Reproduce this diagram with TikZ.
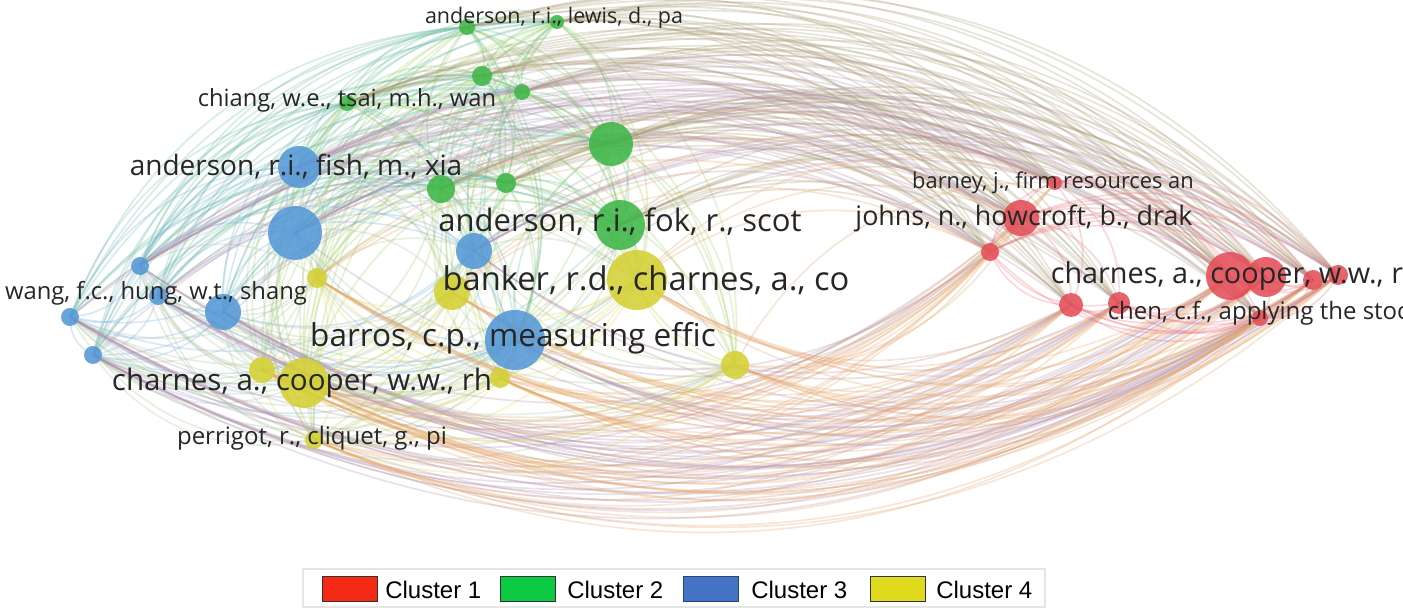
\documentclass[tikz,border=0pt]{standalone}
\usepackage{fontspec}
\setmainfont{Open Sans}
\newfontfamily\legendfont{Liberation Sans}
\usetikzlibrary{backgrounds,positioning,calc}

\definecolor{cred}{RGB}{228,78,88}
\definecolor{cgreen}{RGB}{62,182,72}
\definecolor{cblue}{RGB}{84,152,214}
\definecolor{cyellow}{RGB}{212,208,52}
\definecolor{kred}{RGB}{245,42,20}
\definecolor{kgreen}{RGB}{12,201,67}
\definecolor{kblue}{RGB}{68,114,196}
\definecolor{kyellow}{RGB}{224,218,30}

% sizes are a quarter of the pixel sizes
\newcommand\lblsize[1]{\fontsize{#1}{#1}\selectfont}

\tikzset{
  vos/.style={circle, inner sep=0pt, draw=none, fill opacity=0.88},
  link/.style={line width=0.42pt, draw opacity=0.28},
  lbl/.style={text=black!85, inner sep=0pt},
  key/.style={draw=black!80, line width=0.25pt, minimum width=13.75pt,
    minimum height=6.25pt, inner sep=0pt},
  keytxt/.style={font=\legendfont\lblsize{6}, inner sep=0pt, anchor=west},
}

% name/x/y/radius/colour
\def\vosnet{g1/467/27/8/cgreen,
  g2/557/22/7/cgreen,
  g3/482/76/10/cgreen,
  g4/522/92/8/cgreen,
  g5/347/103/8/cgreen,
  g6/611/144/22/cgreen,
  g7/441/189/14/cgreen,
  g8/506/183/10/cgreen,
  g9/620/225/25/cgreen,
  b1/299/167/21/cblue,
  b2/295/233/27/cblue,
  b3/474/251/18/cblue,
  b4/140/266/9/cblue,
  b5/223/312/18/cblue,
  b6/70/317/9/cblue,
  b7/93/355/9/cblue,
  b8/515/340/30/cblue,
  b9/158/296/9/cblue,
  y1/317/278/10/cyellow,
  y2/452/292/18/cyellow,
  y3/637/280/30/cyellow,
  y4/262/370/13/cyellow,
  y5/304/383/25/cyellow,
  y6/500/378/10/cyellow,
  y7/735/365/14/cyellow,
  y8/314/440/9/cyellow,
  r1/1055/183/7/cred,
  r2/1021/218/18/cred,
  r3/990/252/9/cred,
  r4/1071/305/12/cred,
  r5/1119/303/11/cred,
  r6/1230/276/24/cred,
  r7/1266/277/20/cred,
  r8/1313/280/10/cred,
  r9/1338/275/10/cred,
  r10/1260/318/8/cred}

\begin{document}
\begin{tikzpicture}[x=0.25pt,y=-0.25pt]
\useasboundingbox (0,0) rectangle (1403,608);
\clip (0,0) rectangle (1403,608);

% publications
\foreach \n/\x/\y/\r/\c in \vosnet
  \node[vos, fill=\c, minimum size=\r/2] (\n) at (\x,\y) {};

% citation links
\begin{scope}[on background layer]
\foreach \a/\xa/\ya/\ra/\ca [count=\i] in \vosnet {
  \foreach \b/\xb/\yb/\rb/\cb [count=\j] in \vosnet {
    \ifnum\j>\i
      \pgfmathtruncatemacro\up{((\ya+\yb)<550)==(\xa<\xb)}
      \ifnum\up=1
        \draw[link, draw=\ca!50!\cb!80!white] (\a.center) to[bend left=32] (\b.center);
      \else
        \draw[link, draw=\ca!50!\cb!80!white] (\a.center) to[bend right=32] (\b.center);
      \fi
    \fi
  }
}
\end{scope}

% labels
\node[lbl, font=\lblsize{5.37}] (lg2) at ($(g2)+(-3,-4)$) {anderson, r.i., lewis, d., pa};
\node[lbl, font=\lblsize{5.93}] (lg5) at ($(g5)+(0,-3)$) {chiang, w.e., tsai, m.h., wan};
\node[lbl, font=\lblsize{7}] (lb1) at ($(b1)+(-3,0)$) {anderson, r.i., fish, m., xia};
\node[lbl, font=\lblsize{7.75}] (lg9) at ($(g9)+(0,-3)$) {anderson, r.i., fok, r., scot};
\node[lbl, font=\lblsize{8.18}] (ly3) at ($(y3)+(9,0)$) {banker, r.d., charnes, a., co};
\node[lbl, font=\lblsize{5.95}] (lb9) at ($(b9)+(-2,-3)$) {wang, f.c., hung, w.t., shang};
\node[lbl, font=\lblsize{7.88}] (lb8) at ($(b8)+(-2,-2)$) {barros, c.p., measuring effic};
\node[lbl, font=\lblsize{7.4}] (ly5) at ($(y5)+(-2,0)$) {charnes, a., cooper, w.w., rh};
\node[lbl, font=\lblsize{6}] (ly8) at ($(y8)+(-2,-2)$) {perrigot, r., cliquet, g., pi};
\node[lbl, font=\lblsize{5.46}] (lr1) at ($(r1)+(-2,0)$) {barney, j., firm resources an};
\node[lbl, font=\lblsize{6.71}] (lr2) at ($(r2)+(3,0)$) {johns, n., howcroft, b., drak};
\node[lbl, font=\lblsize{7.2}, anchor=west] (lr6) at ($(r6)+(-180,0)$) {charnes, a., cooper, w.w., rh};
\node[lbl, font=\lblsize{6}, anchor=west] (lr10) at ($(r10)+(-153,-5)$) {chen, c.f., applying the stoc};

% legend
\draw[black!10] (303,569) rectangle (1045,607);
\node[key, fill=kred] (key1) at (349.5,589.5) {};
\node[keytxt, right=1.75pt of key1] (kt1) {Cluster 1};
\node[key, fill=kgreen] (key2) at (527.5,589.5) {};
\node[keytxt, right=2.75pt of key2] (kt2) {Cluster 2};
\node[key, fill=kblue, draw=kblue!60!black] (key3) at (710.5,589.5) {};
\node[keytxt, right=3pt of key3] (kt3) {Cluster 3};
\node[key, fill=kyellow] (key4) at (897.5,589.5) {};
\node[keytxt, right=2.5pt of key4] (kt4) {Cluster 4};
\end{tikzpicture}
\end{document}
